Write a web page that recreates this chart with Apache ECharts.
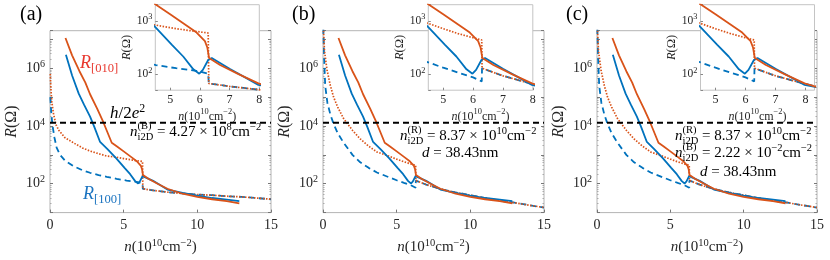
<!DOCTYPE html>
<html><head><meta charset="utf-8">
<script src="https://cdn.jsdelivr.net/npm/echarts@6/dist/echarts.min.js"></script>
<style>html,body{margin:0;padding:0;background:#fff}#c{width:830px;height:260px}</style>
</head><body><div id="c"></div>
<script>
// ---------------- data (x in 1e10 cm^-2, R in Ohm) ----------------
const redSolidX  = [1.05,1.5,2.0,2.4,2.72,3.2,3.62,4.19,4.55,5.0,5.5,5.89,6.17,6.25,6.31,6.68,7.3,7.97,9,10,11,12,12.85];
const redSolidR  = [1.12e7,2.8e6,7.9e5,3.2e5,1.26e5,4.0e4,1.35e4,2630,1950,1320,850,600,415,316,200,148,100,67,45,35,29,25,21];
const blueSolidX = [1.08,1.5,1.95,2.3,2.72,3.0,3.4,3.9,4.5,5.06,5.44,5.78,5.98,6.1,6.28,6.4,7.0,7.97,9,10,11,12,12.85];
const blueSolidR = [2.95e6,5.6e5,1.32e5,5.6e4,2.1e4,9500,2800,1580,760,355,214,123,102,120,184,200,126,63,48,39,32,28,25];

// panel (a) model curves
const redDotA_X  = [0.02,0.06,0.12,0.23,0.4,0.6,1.0,1.58,2.2,2.72,3.3,3.85,4.52,5.0,5.6,6.28];
const redDotA_R  = [6.3e5,2.0e5,7.1e4,2.8e4,1.12e4,7100,4000,2630,1740,1350,1100,910,830,740,660,590];
const blueDashA_X= [0.02,0.08,0.16,0.3,0.45,0.68,1.02,1.58,2.2,2.72,3.3,3.85,4.52,5.2,5.88,6.28];
const blueDashA_R= [1.0e5,3.2e4,1.12e4,4000,1780,1000,630,410,295,240,200,174,148,129,115,102];
const tailA_X    = [6.3,7,8,9,10,11,12,13,14,15];
const tailA_R    = [67,59,51,46,42,40,37,35,32,29];

// panels (b),(c) model curves
const redDotB_X  = [0.02,0.1,0.27,0.5,0.72,1.0,1.4,2.0,2.53,3.1,3.66,4.5,5.0,5.5,6.0,6.29];
const redDotB_R  = [3.2e7,4.0e6,8.9e5,2.5e5,1.0e5,4.5e4,1.8e4,7100,3550,2000,1260,890,710,575,480,437];
const blueDashB_X= [0.02,0.08,0.15,0.3,0.5,0.7,1.0,1.4,2.0,2.53,3.1,3.66,4.5,5.0,5.5,6.0,6.29];
const blueDashB_R= [2.5e7,2.0e6,2.5e5,6.3e4,2.5e4,1.26e4,5600,2630,1000,550,355,245,166,132,107,87,73];
const tailB_X    = [6.3,7,8,9,10,11,12,13,14,15];
const tailB_R    = [129,93,65,50,40,32,26,22,18,15];

const hLineX = [0, 15];
const hLineR = [12906, 12906];   // h/2e^2

const mainXTicks = [0, 5, 10, 15];
const insetXTicks = [5, 6, 7, 8];

// ---------------- styling ----------------
const FONT = '"Liberation Serif","DejaVu Serif",serif';
const TXT = '#262626';
const RED = '#D95319', BLUE = '#0072BD';

const mainG  = [{left:50,w:221},{left:323,w:221},{left:597,w:220}];
const insetG = [{left:155.3,w:104,max:8},{left:428.3,w:104.5,max:8},{left:700.5,w:114,max:8.3}];

function labRich(S){
  return {
    r:{fontFamily:FONT,fontSize:S,color:TXT,lineHeight:S+5},
    i:{fontFamily:FONT,fontSize:S,fontStyle:'italic',color:TXT,lineHeight:S+5},
    s:{fontFamily:FONT,fontSize:S*0.7,color:TXT,lineHeight:S*0.7,verticalAlign:'top'}
  };
}
function logFmt(evenOnly){
  return function(v){
    const e = Math.log10(v), k = Math.round(e);
    if (Math.abs(e-k) > 1e-6) return '';
    if (evenOnly && k % 2 !== 0) return '';
    return '{b|10}{s|' + k + '}';
  };
}
function tickRich(S){
  return {
    b:{fontFamily:FONT,fontSize:S,color:TXT,lineHeight:S+4},
    s:{fontFamily:FONT,fontSize:S*0.72,color:TXT,lineHeight:S*0.72,verticalAlign:'top'}
  };
}
const xName = '{i|n}{r|(10}{s|10}{r|cm}{s|−2}{r|)}';
const yName = '{i|R}{r|(Ω)}';

const grid = [], xAxis = [], yAxis = [], series = [];
mainG.forEach((m,i)=>{
  grid.push({left:m.left, top:30.7, width:m.w, height:182.6, show:true, borderColor:'#b4b4b4', borderWidth:1, backgroundColor:'transparent'});
});
insetG.forEach((m,i)=>{
  grid.push({left:m.left, top:4.7, width:m.w, height:85.5, show:true, borderColor:'#c4c4c4', borderWidth:1, backgroundColor:'#ffffff', z:10});
});
mainG.forEach((m,i)=>{
  xAxis.push({type:'value', gridIndex:i, min:0, max:15, interval:5,
    axisLine:{show:false}, splitLine:{show:false},
    axisTick:{inside:true,length:3,lineStyle:{color:'#777'}},
    axisLabel:{fontFamily:FONT,fontSize:14,color:TXT,margin:6},
    name:xName, nameLocation:'middle', nameGap:23, nameTextStyle:{rich:labRich(15)}});
});
insetG.forEach((m,i)=>{
  xAxis.push({type:'value', gridIndex:i+3, min:4.5, max:m.max, interval:0.5, z:11,
    axisLine:{show:false}, splitLine:{show:false},
    axisTick:{inside:true,length:2.5,lineStyle:{color:'#888'},customValues:insetXTicks},
    axisLabel:{fontFamily:FONT,fontSize:12,color:TXT,margin:4,customValues:insetXTicks,
      formatter:v=>Number.isInteger(v)?String(v):''},
    name:xName, nameLocation:'middle', nameGap:18, nameTextStyle:{rich:labRich(12)}});
});
mainG.forEach((m,i)=>{
  yAxis.push({type:'log', logBase:10, gridIndex:i, min:10, max:2e7,
    axisLine:{show:false}, splitLine:{show:false},
    axisTick:{inside:true,length:3,lineStyle:{color:'#777'}},
    minorTick:{show:true,splitNumber:8,length:1.5,lineStyle:{color:'#aaa'}},
    axisLabel:{formatter:logFmt(true), rich:tickRich(14), margin:5},
    name:yName, nameLocation:'middle', nameRotate:90, nameGap:28, nameTextStyle:{rich:labRich(16)}});
});
insetG.forEach((m,i)=>{
  yAxis.push({type:'log', logBase:10, gridIndex:i+3, min:50, max:2000, z:11,
    axisLine:{show:false}, splitLine:{show:false},
    axisTick:{inside:true,length:2.5,lineStyle:{color:'#888'}},
    axisLabel:{formatter:logFmt(false), rich:tickRich(11.5), margin:3},
    name:yName, nameLocation:'middle', nameRotate:90, nameGap:17, nameTextStyle:{rich:labRich(12.5)}});
});
mainG.forEach((m,i)=>{
  yAxis.push({type:'log', logBase:10, gridIndex:i, min:10, max:2e7, position:'right',
    axisLine:{show:false}, splitLine:{show:false},
    axisTick:{inside:true,length:3,lineStyle:{color:'#777'}},
    minorTick:{show:true,splitNumber:8,length:1.5,lineStyle:{color:'#aaa'}},
    axisLabel:{show:false}});
});

function zip(xs, rs){ return xs.map((x,k)=>[x, rs[k]]); }
function line(data, xi, yi, color, type, width, z){
  return {type:'line', xAxisIndex:xi, yAxisIndex:yi, data, showSymbol:false, symbol:'none',
    lineStyle:{color, width, type}, z, silent:true, animation:false, clip:true};
}
const panels = [
  {rd:zip(redDotA_X.concat(tailA_X), redDotA_R.concat(tailA_R)), bd:zip(blueDashA_X.concat(tailA_X), blueDashA_R.concat(tailA_R))},
  {rd:zip(redDotB_X.concat(tailB_X), redDotB_R.concat(tailB_R)), bd:zip(blueDashB_X.concat(tailB_X), blueDashB_R.concat(tailB_R))},
  {rd:zip(redDotB_X.concat(tailB_X), redDotB_R.concat(tailB_R)), bd:zip(blueDashB_X.concat(tailB_X), blueDashB_R.concat(tailB_R))}
];
const rs = zip(redSolidX, redSolidR), bs = zip(blueSolidX, blueSolidR), hl = zip(hLineX, hLineR);
panels.forEach((p,i)=>{
  series.push(line(p.bd, i, i, BLUE, [6,4], 1.8, 2));
  series.push(line(p.rd, i, i, RED, [1.5,1.5], 1.7, 3));
  series.push(line(bs, i, i, BLUE, 'solid', 1.8, 4));
  series.push(line(rs, i, i, RED, 'solid', 1.8, 5));
  series.push(line(hl, i, i, '#000', [6,4], 2, 6));
  series.push(line(p.bd, i+3, i+3, BLUE, [6,4], 1.8, 12));
  series.push(line(p.rd, i+3, i+3, RED, [1.5,1.5], 1.7, 13));
  series.push(line(bs, i+3, i+3, BLUE, 'solid', 1.8, 14));
  series.push(line(rs, i+3, i+3, RED, 'solid', 1.8, 15));
});

// ---------------- annotations ----------------
function gRich(S, color){
  return {
    r:{fontFamily:FONT,fontSize:S,lineHeight:S+6,fill:color},
    i:{fontFamily:FONT,fontSize:S,fontStyle:'italic',lineHeight:S+6,fill:color},
    sup:{fontFamily:FONT,fontSize:S*0.7,lineHeight:S*0.7,verticalAlign:'top',fill:color},
    sub:{fontFamily:FONT,fontSize:S*0.7,lineHeight:S*0.7,verticalAlign:'bottom',fill:color}
  };
}
function txt(x, y, text, S, color){
  return {type:'text', x, y, z:100, silent:true,
    style:{text, fill:color, font:S+'px '+FONT, textAlign:'left', textVerticalAlign:'middle', rich:gRich(S,color)}};
}
function nExpr(x, y, tag, rest, S){
  return [
    txt(x, y, '{i|n}{sub|i2D}' + rest, S, '#000'),
    txt(x + S*0.5, y - S*0.36, '{r|(' + tag + ')}', S*0.7, '#000')
  ];
}
const graphic = [
  txt(20, 15, '(a)', 20, '#000'),
  txt(292, 15, '(b)', 20, '#000'),
  txt(566, 15, '(c)', 20, '#000'),
  txt(80, 63, '{i|R}{sub|[010]}', 18, '#E8382F'),
  txt(83, 194, '{i|R}{sub|[100]}', 18, '#1A73C0'),
  txt(110, 114, '{i|h}{r|/2}{i|e}{sup|2}', 17, '#000'),
  ...nExpr(130, 132, 'B', '{r| = 4.27 × 10}{sup|8}{r|cm}{sup|−2}', 15),
  ...nExpr(400, 136, 'R', '{r| = 8.37 × 10}{sup|10}{r|cm}{sup|−2}', 15),
  txt(422, 153, '{i|d}{r| = 38.43nm}', 15, '#000'),
  ...nExpr(675, 136, 'R', '{r| = 8.37 × 10}{sup|10}{r|cm}{sup|−2}', 15),
  ...nExpr(675, 153, 'B', '{r| = 2.22 × 10}{sup|−2}{r|cm}{sup|−2}', 15),
  txt(700, 172, '{i|d}{r| = 38.43nm}', 15, '#000')
];

const chart = echarts.init(document.getElementById('c'), null, {renderer:'canvas'});
chart.setOption({animation:false, backgroundColor:'#fff', grid, xAxis, yAxis, series, graphic});
</script></body></html>
